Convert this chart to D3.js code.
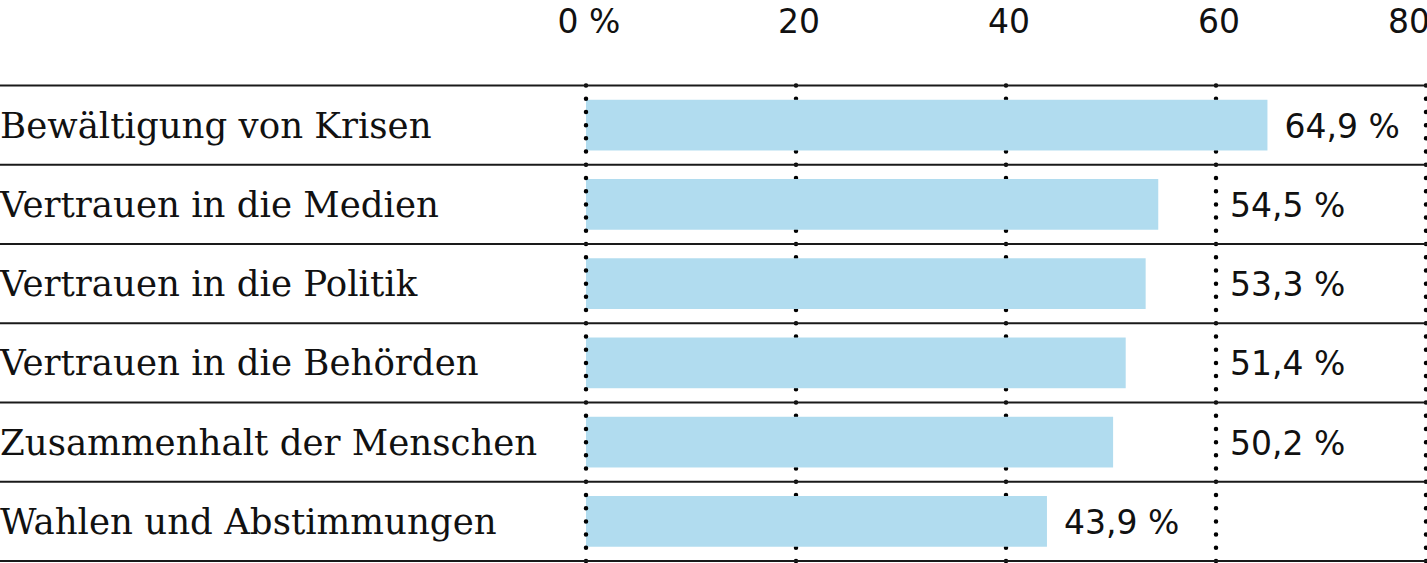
<!DOCTYPE html>
<html>
<head>
<meta charset="utf-8">
<script src="https://cdn.jsdelivr.net/npm/d3@7"></script>
<style>
  body { margin: 0; background: #fff; }
  .cat { font-family: "DejaVu Serif", serif; font-size: 35.6px; fill: #111; }
  .val, .tick-label { font-family: "DejaVu Sans", sans-serif; font-size: 33px; fill: #111; }
</style>
</head>
<body>
<div id="vis"></div>
<script>
// chart data
var categories = ["Bewältigung von Krisen", "Vertrauen in die Medien", "Vertrauen in die Politik",
    "Vertrauen in die Behörden", "Zusammenhalt der Menschen", "Wahlen und Abstimmungen"];
var values = [64.9, 54.5, 53.3, 51.4, 50.2, 43.9];
var tickValues = [0, 20, 40, 60, 80];
var tickLabels = ["0 %", "20", "40", "60", "80"];

var width = 1427;
var height = 563;

var de = d3.formatLocale({decimal: ",", thousands: ".", grouping: [3], currency: ["", " €"]});
var fmt = de.format(".1f");

var svg = d3.select('#vis')
    .append('svg')
    .attr('width', width)
    .attr('height', height);

var x_scale = d3.scaleLinear()
    .domain([0, 80])
    .range([586, 1426]);

var y_scale = d3.scaleBand()
    .domain(categories)
    .range([85.5, 561])
    .paddingInner(0.36)
    .paddingOuter(0.18);

var rowH = (561 - 85.5) / categories.length;

// dotted grid lines (behind the bars)
svg.append('g')
    .selectAll('line')
    .data(tickValues.slice(1))
    .enter()
    .append('line')
    .attr('x1', function(d) { return x_scale(d); })
    .attr('x2', function(d) { return x_scale(d); })
    .attr('y1', 85.5)
    .attr('y2', 561)
    .attr('stroke', '#000')
    .attr('stroke-width', 4.5)
    .attr('stroke-linecap', 'round')
    .attr('stroke-dasharray', '0 ' + (rowH / 6));

// bars
svg.append('g')
    .selectAll('rect')
    .data(values)
    .enter()
    .append('rect')
    .attr('x', x_scale(0))
    .attr('y', function(d, i) { return y_scale(categories[i]); })
    .attr('width', function(d) { return x_scale(d) - x_scale(0); })
    .attr('height', y_scale.bandwidth())
    .attr('fill', '#b1dcef');

// zero line on top
svg.append('line')
    .attr('x1', x_scale(0))
    .attr('x2', x_scale(0))
    .attr('y1', 85.5)
    .attr('y2', 561)
    .attr('stroke', '#000')
    .attr('stroke-width', 4.5)
    .attr('stroke-linecap', 'round')
    .attr('stroke-dasharray', '0 ' + (rowH / 6));

// horizontal row rules
var rules = d3.range(categories.length + 1);
svg.append('g')
    .selectAll('line')
    .data(rules)
    .enter()
    .append('line')
    .attr('x1', 0)
    .attr('x2', width)
    .attr('y1', function(d) { return 85.5 + d * rowH; })
    .attr('y2', function(d) { return 85.5 + d * rowH; })
    .attr('stroke', '#1a1a1a')
    .attr('stroke-width', 2);

// top tick labels (the last one is cut at the edge, as in the original)
svg.append('g')
    .selectAll('text')
    .data(tickValues)
    .enter()
    .append('text')
    .attr('class', 'tick-label')
    .attr('x', function(d, i) {
        return i == tickValues.length - 1 ? x_scale(d) + 4 : x_scale(d) + 3;
    })
    .attr('y', 33)
    .style('text-anchor', function(d, i) {
        return i == tickValues.length - 1 ? 'end' : 'middle';
    })
    .text(function(d, i) { return tickLabels[i]; });

// category labels
svg.append('g')
    .selectAll('text')
    .data(categories)
    .enter()
    .append('text')
    .attr('class', 'cat')
    .attr('x', 0)
    .attr('y', function(d) { return y_scale(d) + y_scale.bandwidth() / 2 + 12.5; })
    .text(function(d) { return d; });

// value labels, pushed past a grid line when they would cross it
svg.append('g')
    .selectAll('text')
    .data(values)
    .enter()
    .append('text')
    .attr('class', 'val')
    .attr('y', function(d, i) { return y_scale(categories[i]) + y_scale.bandwidth() / 2 + 12.5; })
    .text(function(d) { return fmt(d) + ' %'; })
    .attr('x', function(d) {
        var w = this.getComputedTextLength();
        var start = x_scale(d) + 17;
        tickValues.forEach(function(t) {
            var tx = x_scale(t);
            if (tx > x_scale(d) && tx < start + w + 4) start = tx + 14;
        });
        return start;
    });
</script>
</body>
</html>
